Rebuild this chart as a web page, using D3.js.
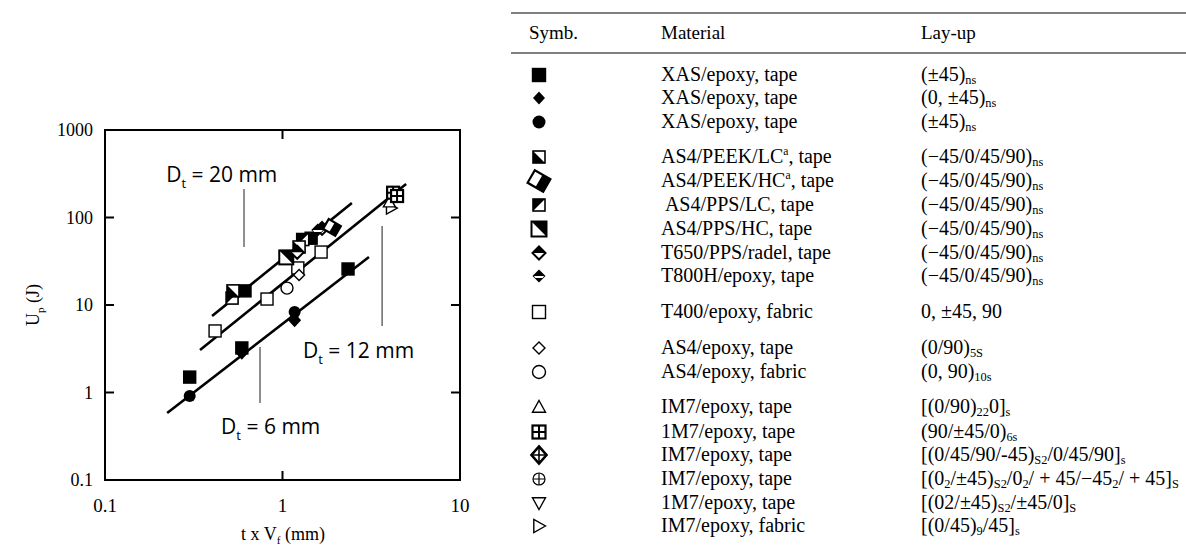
<!DOCTYPE html>
<html><head><meta charset="utf-8">
<script src="https://cdn.jsdelivr.net/npm/d3@7"></script>
<style>body{margin:0;background:#fff}svg{display:block}</style>
</head><body>
<svg id="c" width="1186" height="545"></svg>
<script>
// ---------- data ----------
const xTicks = [0.1, 1, 10];
const yTicks = [0.1, 1, 10, 100, 1000];
const xTickLabels = ["0.1", "1", "10"];
const yTickLabels = ["0.1", "1", "10", "100", "1000"];

// points per symbol [x (mm), Up (J)]
const xasSquare   = [[0.30,1.50],[0.59,3.23],[2.34,25.8],[0.615,14.5],[1.45,58]];
const xasDiamond  = [[1.17,6.7],[0.59,2.85]];
const xasCircle   = [[0.30,0.91],[1.17,8.3]];
const peekLC      = [[0.526,14.5],[1.24,46]];
const peekHC      = [[1.90,77]];
const ppsLC       = [[0.52,12.0],[1.30,56]];
const ppsHC       = [[1.05,35]];
const t650        = [[1.21,40],[1.67,75]];
const t800        = [[1.58,72]];
const t400        = [[0.417,5.05],[0.818,11.7],[1.22,26.5],[1.65,40.3]];
const as4Tape     = [[1.24,22]];
const as4Fabric   = [[1.06,15.6]];
const im7TriUp    = [[4.0,150]];
const im7SqCross  = [[4.2,192],[4.42,176]];
const im7TriRight = [[4.1,128]];

// regression lines (endpoints in data units)
const fitLabels = ["20", "12", "6"];
const fitLines = [
  [[0.401,7.48],[2.46,146.5]],
  [[0.343,3.06],[4.97,241]],
  [[0.224,0.584],[3.07,35.4]]
];
// annotation leader lines [x, y1, y2] and label anchors [x, y]
const leaders = [[0.607,212,46],[3.64,80,5.75],[0.747,3.31,0.76]];
const labelAnchors = [[0.221,255],[1.305,2.48],[0.451,0.336]];

// legend table
const legendSymbols = ["sqF","diaF","cirF","peekLC","peekHC","ppsLC","ppsHC","t650","t800","sqO","diaO","cirO","triU","sqX","diaX","cirX","triD","triR"];
const legendMaterials = ["XAS/epoxy, tape","XAS/epoxy, tape","XAS/epoxy, tape",
  "AS4/PEEK/LC^{a}, tape","AS4/PEEK/HC^{a}, tape"," AS4/PPS/LC, tape","AS4/PPS/HC, tape",
  "T650/PPS/radel, tape","T800H/epoxy, tape","T400/epoxy, fabric","AS4/epoxy, tape","AS4/epoxy, fabric",
  "IM7/epoxy, tape","1M7/epoxy, tape","IM7/epoxy, tape","IM7/epoxy, tape","1M7/epoxy, tape","IM7/epoxy, fabric"];
const legendLayups = ["(±45)_{ns}","(0, ±45)_{ns}","(±45)_{ns}",
  "(−45/0/45/90)_{ns}","(−45/0/45/90)_{ns}","(−45/0/45/90)_{ns}","(−45/0/45/90)_{ns}","(−45/0/45/90)_{ns}","(−45/0/45/90)_{ns}",
  "0, ±45, 90","(0/90)_{5S}","(0, 90)_{10s}",
  "[(0/90)_{22}0]_{s}","(90/±45/0)_{6s}","[(0/45/90/-45)_{S2}/0/45/90]_{s}",
  "[(0_{2}/±45)_{S2}/0_{2}/ + 45/−45_{2}/ + 45]_{S}","[(02/±45)_{S2}/±45/0]_{S}","[(0/45)_{9}/45]_{s}"];
const legendHeaders = ["Symb.","Material","Lay-up"];

// ---------- layout / style ----------
const svg = d3.select("#c");
const L = 105, R = 460, T = 130, B = 480;
const x = d3.scaleLog().domain([0.1,10]).range([L,R]);
const y = d3.scaleLog().domain([0.1,1000]).range([B,T]);
const serif = "'Liberation Serif','Times New Roman',serif";
const sans = "'Open Sans',Lato,sans-serif";

const symSize = {sqF:12,diaF:13,cirF:12,peekLC:12,peekHC:14,ppsLC:12,ppsHC:14,t650:13,t800:13,
  sqO:12,diaO:11,cirO:12,triU:12,sqX:12,diaX:14,cirX:12,triD:12,triR:12};
const legSize = {sqF:13,diaF:12,cirF:13,peekLC:12,peekHC:18,ppsLC:12,ppsHC:15,t650:13,t800:13,
  sqO:13,diaO:12,cirO:13,triU:13,sqX:13,diaX:15,cirX:12,triD:13,triR:13};

function drawSym(g, type, s){
  const h = s/2, sw = 1.4;
  const dia = (k)=>`M0,${-h*k}L${h},0L0,${h*k}L${-h},0Z`;
  const rect = (fill, w) => g.append("rect").attr("x",-h).attr("y",-h).attr("width",s).attr("height",s)
      .attr("fill",fill).attr("stroke","#000").attr("stroke-width",w||sw);
  switch(type){
    case "sqF": rect("#000"); break;
    case "diaF": g.append("path").attr("d",dia(1.1)).attr("fill","#000"); break;
    case "cirF": g.append("circle").attr("r",h).attr("fill","#000"); break;
    case "peekLC": rect("#fff",1.6); g.append("path").attr("d",`M${-h},${-h}L${-h},${h}L${h},${h}Z`).attr("fill","#000"); break;
    case "peekHC": {
      const gg = g.append("g").attr("transform","rotate(30)");
      gg.append("rect").attr("x",-h).attr("y",-h*0.8).attr("width",s).attr("height",s*0.8).attr("fill","#fff").attr("stroke","#000").attr("stroke-width",2.2);
      gg.append("rect").attr("x",0).attr("y",-h*0.8).attr("width",h).attr("height",s*0.8).attr("fill","#000");
      break; }
    case "ppsLC": rect("#fff",1.6); g.append("path").attr("d",`M${-h},${-h}L${h},${-h}L${-h},${h}Z`).attr("fill","#000"); break;
    case "ppsHC": rect("#fff",2); g.append("path").attr("d",`M${-h},${-h}L${h},${-h}L${h},${h}Z`).attr("fill","#000"); break;
    case "t650":
      g.append("path").attr("d",dia(1)).attr("fill","#fff").attr("stroke","#000").attr("stroke-width",2);
      g.append("path").attr("d",`M0,${-h}L${h},0L${-h},0Z`).attr("fill","#000"); break;
    case "t800":
      g.append("path").attr("d",dia(1)).attr("fill","#000");
      g.append("path").attr("d",`M${-h*0.8},${-h*0.0}L${h*0.8},0L${h*0.55},${h*0.3}L${-h*0.55},${h*0.3}Z`).attr("fill","#fff"); break;
    case "sqO": rect("#fff"); break;
    case "diaO": g.append("path").attr("d",dia(1)).attr("fill","#fff").attr("stroke","#000").attr("stroke-width",sw); break;
    case "cirO": g.append("circle").attr("r",h).attr("fill","#fff").attr("stroke","#000").attr("stroke-width",sw); break;
    case "triU": g.append("path").attr("d",`M0,${-h}L${h},${h*0.8}L${-h},${h*0.8}Z`).attr("fill","#fff").attr("stroke","#000").attr("stroke-width",sw); break;
    case "triD": g.append("path").attr("d",`M0,${h}L${h},${-h*0.8}L${-h},${-h*0.8}Z`).attr("fill","#fff").attr("stroke","#000").attr("stroke-width",sw); break;
    case "triR": g.append("path").attr("d",`M${h},0L${-h*0.8},${h}L${-h*0.8},${-h}Z`).attr("fill","#fff").attr("stroke","#000").attr("stroke-width",sw); break;
    case "sqX": rect("#fff",2.2);
      g.append("path").attr("d",`M0,${-h}V${h}M${-h},0H${h}`).attr("stroke","#000").attr("stroke-width",2); break;
    case "diaX":
      g.append("path").attr("d",dia(1.15)).attr("fill","#fff").attr("stroke","#000").attr("stroke-width",2.6);
      g.append("path").attr("d",`M0,${-h*1.15}V${h*1.15}M${-h},0H${h}`).attr("stroke","#000").attr("stroke-width",1.6); break;
    case "cirX":
      g.append("circle").attr("r",h).attr("fill","#fff").attr("stroke","#000").attr("stroke-width",1.2);
      g.append("path").attr("d",`M0,${-h}V${h}M${-h},0H${h}`).attr("stroke","#000").attr("stroke-width",1.2); break;
  }
}

function rich(sel, str, fs, subK){
  const k = subK || 0.16;
  const parts = str.split(/(_\{[^}]*\}|\^\{[^}]*\})/).filter(p=>p!=="");
  let shift = 0;
  parts.forEach(p=>{
    let t = p, target = 0, size = fs;
    if (p.startsWith("_{")) { t = p.slice(2,-1); target = fs*k; size = fs*0.62; }
    else if (p.startsWith("^{")) { t = p.slice(2,-1); target = -fs*0.38; size = fs*0.58; }
    sel.append("tspan").attr("dy", target - shift).attr("font-size", size).text(t);
    shift = target;
  });
}

// ---------- chart ----------
const plot = svg.append("g");
plot.append("rect").attr("x",L).attr("y",T).attr("width",R-L).attr("height",B-T)
  .attr("fill","none").attr("stroke","#000").attr("stroke-width",2);
const tl = 9;
xTicks.slice(1,-1).forEach(v=>{
  plot.append("line").attr("x1",x(v)).attr("x2",x(v)).attr("y1",B).attr("y2",B-tl).attr("stroke","#000").attr("stroke-width",2);
  plot.append("line").attr("x1",x(v)).attr("x2",x(v)).attr("y1",T).attr("y2",T+tl).attr("stroke","#000").attr("stroke-width",2);
});
yTicks.slice(1,-1).forEach(v=>{
  plot.append("line").attr("x1",L).attr("x2",L+tl).attr("y1",y(v)).attr("y2",y(v)).attr("stroke","#000").attr("stroke-width",2);
  plot.append("line").attr("x1",R).attr("x2",R-tl).attr("y1",y(v)).attr("y2",y(v)).attr("stroke","#000").attr("stroke-width",2);
});
xTicks.forEach((v,i)=>{
  plot.append("text").attr("x",x(v)).attr("y",512).attr("text-anchor","middle")
    .attr("font-family",serif).attr("font-size",19).text(xTickLabels[i]);
});
yTicks.forEach((v,i)=>{
  plot.append("text").attr("x",93).attr("y",y(v)+6).attr("text-anchor","end")
    .attr("font-family",serif).attr("font-size",18).text(yTickLabels[i]);
});
const yt = plot.append("text").attr("transform","translate(39,305) rotate(-90)").attr("text-anchor","middle")
  .attr("font-family",serif).attr("font-size",18).style("white-space","pre");
rich(yt, "U_{p} (J)", 18, 0.3);
const xt = plot.append("text").attr("x",283).attr("y",540).attr("text-anchor","middle")
  .attr("font-family",serif).attr("font-size",18).style("white-space","pre");
rich(xt, "t x V_{f} (mm)", 18, 0.2);

const lineGen = d3.line().x(d=>x(d[0])).y(d=>y(d[1]));
fitLines.forEach(pts=>{
  plot.append("path").attr("d",lineGen(pts)).attr("fill","none").attr("stroke","#000").attr("stroke-width",2.6);
});
leaders.forEach(d=>{
  plot.append("line").attr("x1",x(d[0])).attr("x2",x(d[0])).attr("y1",y(d[1])).attr("y2",y(d[2]))
    .attr("stroke","#333").attr("stroke-width",1.1);
});
labelAnchors.forEach((d,i)=>{
  const t = plot.append("text").attr("x",x(d[0])).attr("y",y(d[1])).attr("font-family",sans)
    .attr("font-size",21).style("white-space","pre");
  rich(t, "D_{t} = " + fitLabels[i] + " mm", 21, 0.3);
});

const seriesList = [
  ["t400",t400,"sqO"],["as4Fabric",as4Fabric,"cirO"],["as4Tape",as4Tape,"diaO"],
  ["im7TriRight",im7TriRight,"triR"],["im7TriUp",im7TriUp,"triU"],["im7SqCross",im7SqCross,"sqX"],
  ["xasSquare",xasSquare,"sqF"],["xasDiamond",xasDiamond,"diaF"],["xasCircle",xasCircle,"cirF"],
  ["ppsLC",ppsLC,"ppsLC"],["peekLC",peekLC,"peekLC"],["ppsHC",ppsHC,"ppsHC"],
  ["t650",t650,"t650"],["t800",t800,"t800"],["peekHC",peekHC,"peekHC"]
];
seriesList.forEach(([name,data,type])=>{
  data.forEach(d=>{
    const g = plot.append("g").attr("class",name).attr("transform",`translate(${x(d[0])},${y(d[1])})`);
    drawSym(g, type, symSize[type]);
  });
});

// ---------- legend table ----------
const leg = svg.append("g");
const colX = [529, 661, 921];
leg.append("line").attr("x1",511).attr("x2",1186).attr("y1",13).attr("y2",13).attr("stroke","#555").attr("stroke-width",1.6);
leg.append("line").attr("x1",511).attr("x2",1186).attr("y1",53).attr("y2",53).attr("stroke","#555").attr("stroke-width",1.6);
legendHeaders.forEach((h,i)=>{
  leg.append("text").attr("x",colX[i]).attr("y",39).attr("font-family",serif).attr("font-size",19).text(h);
});
const rowY = [75,98,122,157,181,205,229,253,276,312,348,372,407,432,455,479,503,526];
const symX = 539;
legendSymbols.forEach((s,i)=>{
  const g = leg.append("g").attr("transform",`translate(${symX},${rowY[i]})`);
  drawSym(g, s, legSize[s]);
  const mt = leg.append("text").attr("x",colX[1]).attr("y",rowY[i]+6).attr("font-family",serif)
    .attr("font-size",20).style("white-space","pre");
  rich(mt, legendMaterials[i], 20);
  const lt = leg.append("text").attr("x",colX[2]).attr("y",rowY[i]+6).attr("font-family",serif)
    .attr("font-size",20).style("white-space","pre");
  rich(lt, legendLayups[i], 20);
});
</script>
</body></html>
